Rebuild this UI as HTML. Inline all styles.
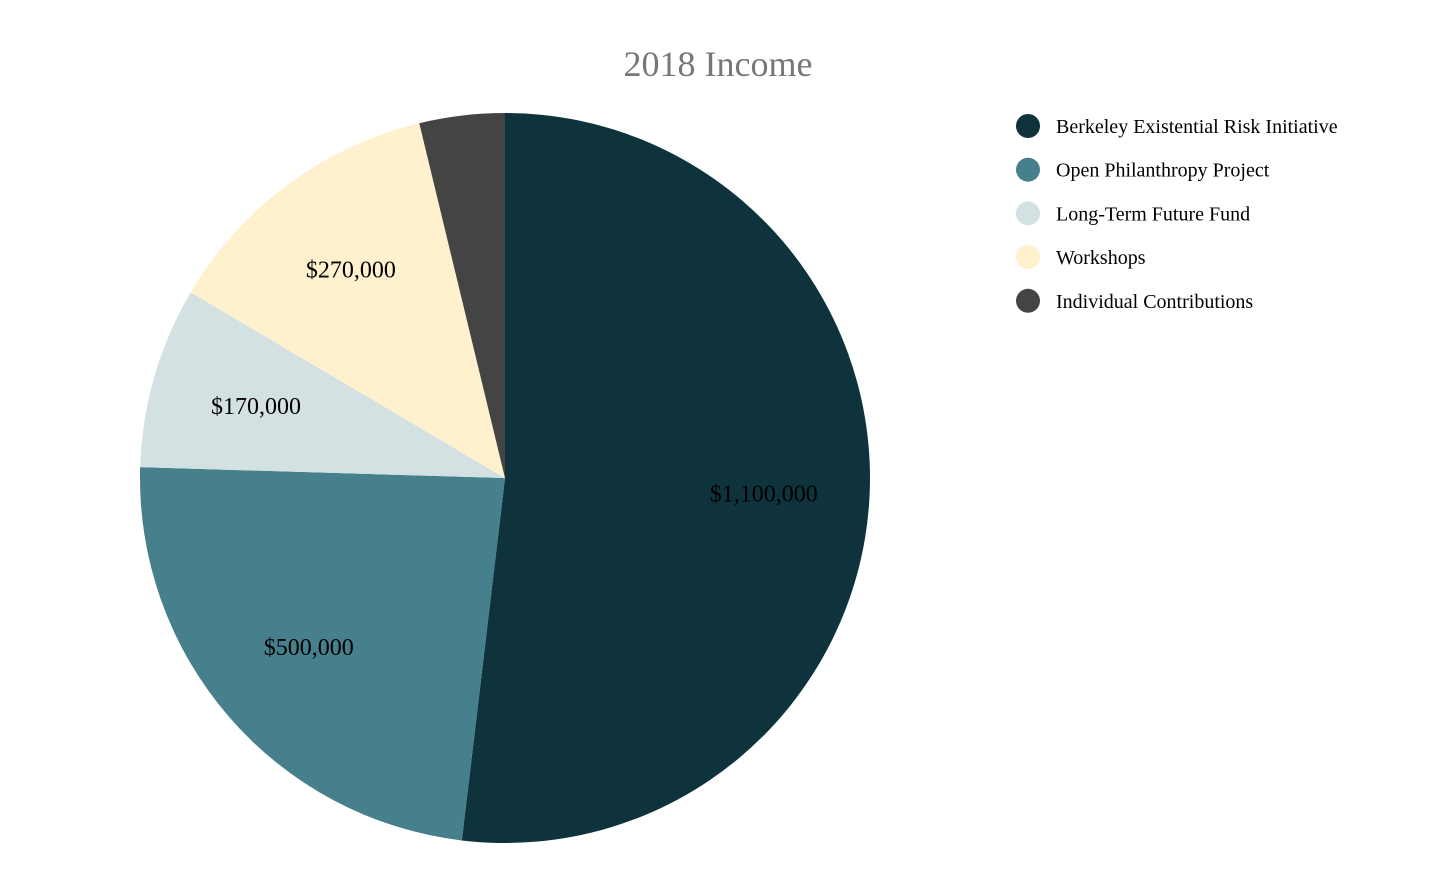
<!DOCTYPE html>
<html><head><meta charset="utf-8"><style>
body{margin:0;background:#fff;width:1438px;height:888px;overflow:hidden}
svg{display:block;font-family:"Liberation Serif",serif}
</style></head><body>
<svg id="chart" width="1438" height="888">
<text x="718" y="76" text-anchor="middle" font-size="36" fill="#777">2018 Income</text>
<g id="slices"></g><g id="labels"></g><g id="legend"></g>
</svg>
<script>
const categories=["Berkeley Existential Risk Initiative","Open Philanthropy Project","Long-Term Future Fund","Workshops","Individual Contributions"];
const values=[1100000,500000,170000,270000,80000];
const valueLabels=["$1,100,000","$500,000","$170,000","$270,000",""];
const colors=["#0e333c","#46808c","#d3e1e3","#fff1cd","#444444"];
const NS="http://www.w3.org/2000/svg";
const cx=505,cy=478,r=365;
const total=values.reduce((a,b)=>a+b,0);
function pt(a,d){return [cx+Math.sin(a)*d,cy-Math.cos(a)*d];}
let a0=0;
const sg=document.getElementById('slices'),lg=document.getElementById('labels'),leg=document.getElementById('legend');
values.forEach((v,i)=>{
  const a1=a0+v/total*2*Math.PI;
  const p0=pt(a0,r),p1=pt(a1,r);
  const large=(a1-a0)>Math.PI?1:0;
  const p=document.createElementNS(NS,'path');
  p.setAttribute('d',`M${cx},${cy}L${p0[0]},${p0[1]}A${r},${r} 0 ${large} 1 ${p1[0]},${p1[1]}Z`);
  p.setAttribute('fill',colors[i]);
  
  
  sg.appendChild(p);
  if(valueLabels[i]){
    const m=pt((a0+a1)/2,r*0.71);
    const t=document.createElementNS(NS,'text');
    t.setAttribute('x',m[0]);t.setAttribute('y',m[1]+8);
    t.setAttribute('text-anchor','middle');t.setAttribute('font-size','24');
    t.setAttribute('fill','#000');
    t.textContent=valueLabels[i];
    
    
    lg.appendChild(t);
  }
  const y=126+i*43.7;
  const c=document.createElementNS(NS,'circle');
  c.setAttribute('cx',1028);c.setAttribute('cy',y);c.setAttribute('r',12);c.setAttribute('fill',colors[i]);
  
  
  leg.appendChild(c);
  const lt=document.createElementNS(NS,'text');
  lt.setAttribute('x',1056);lt.setAttribute('y',y+7);lt.setAttribute('font-size','20');lt.setAttribute('fill','#000');
  lt.textContent=categories[i];
  
  
  leg.appendChild(lt);
  a0=a1;
});
</script>
</body></html>
